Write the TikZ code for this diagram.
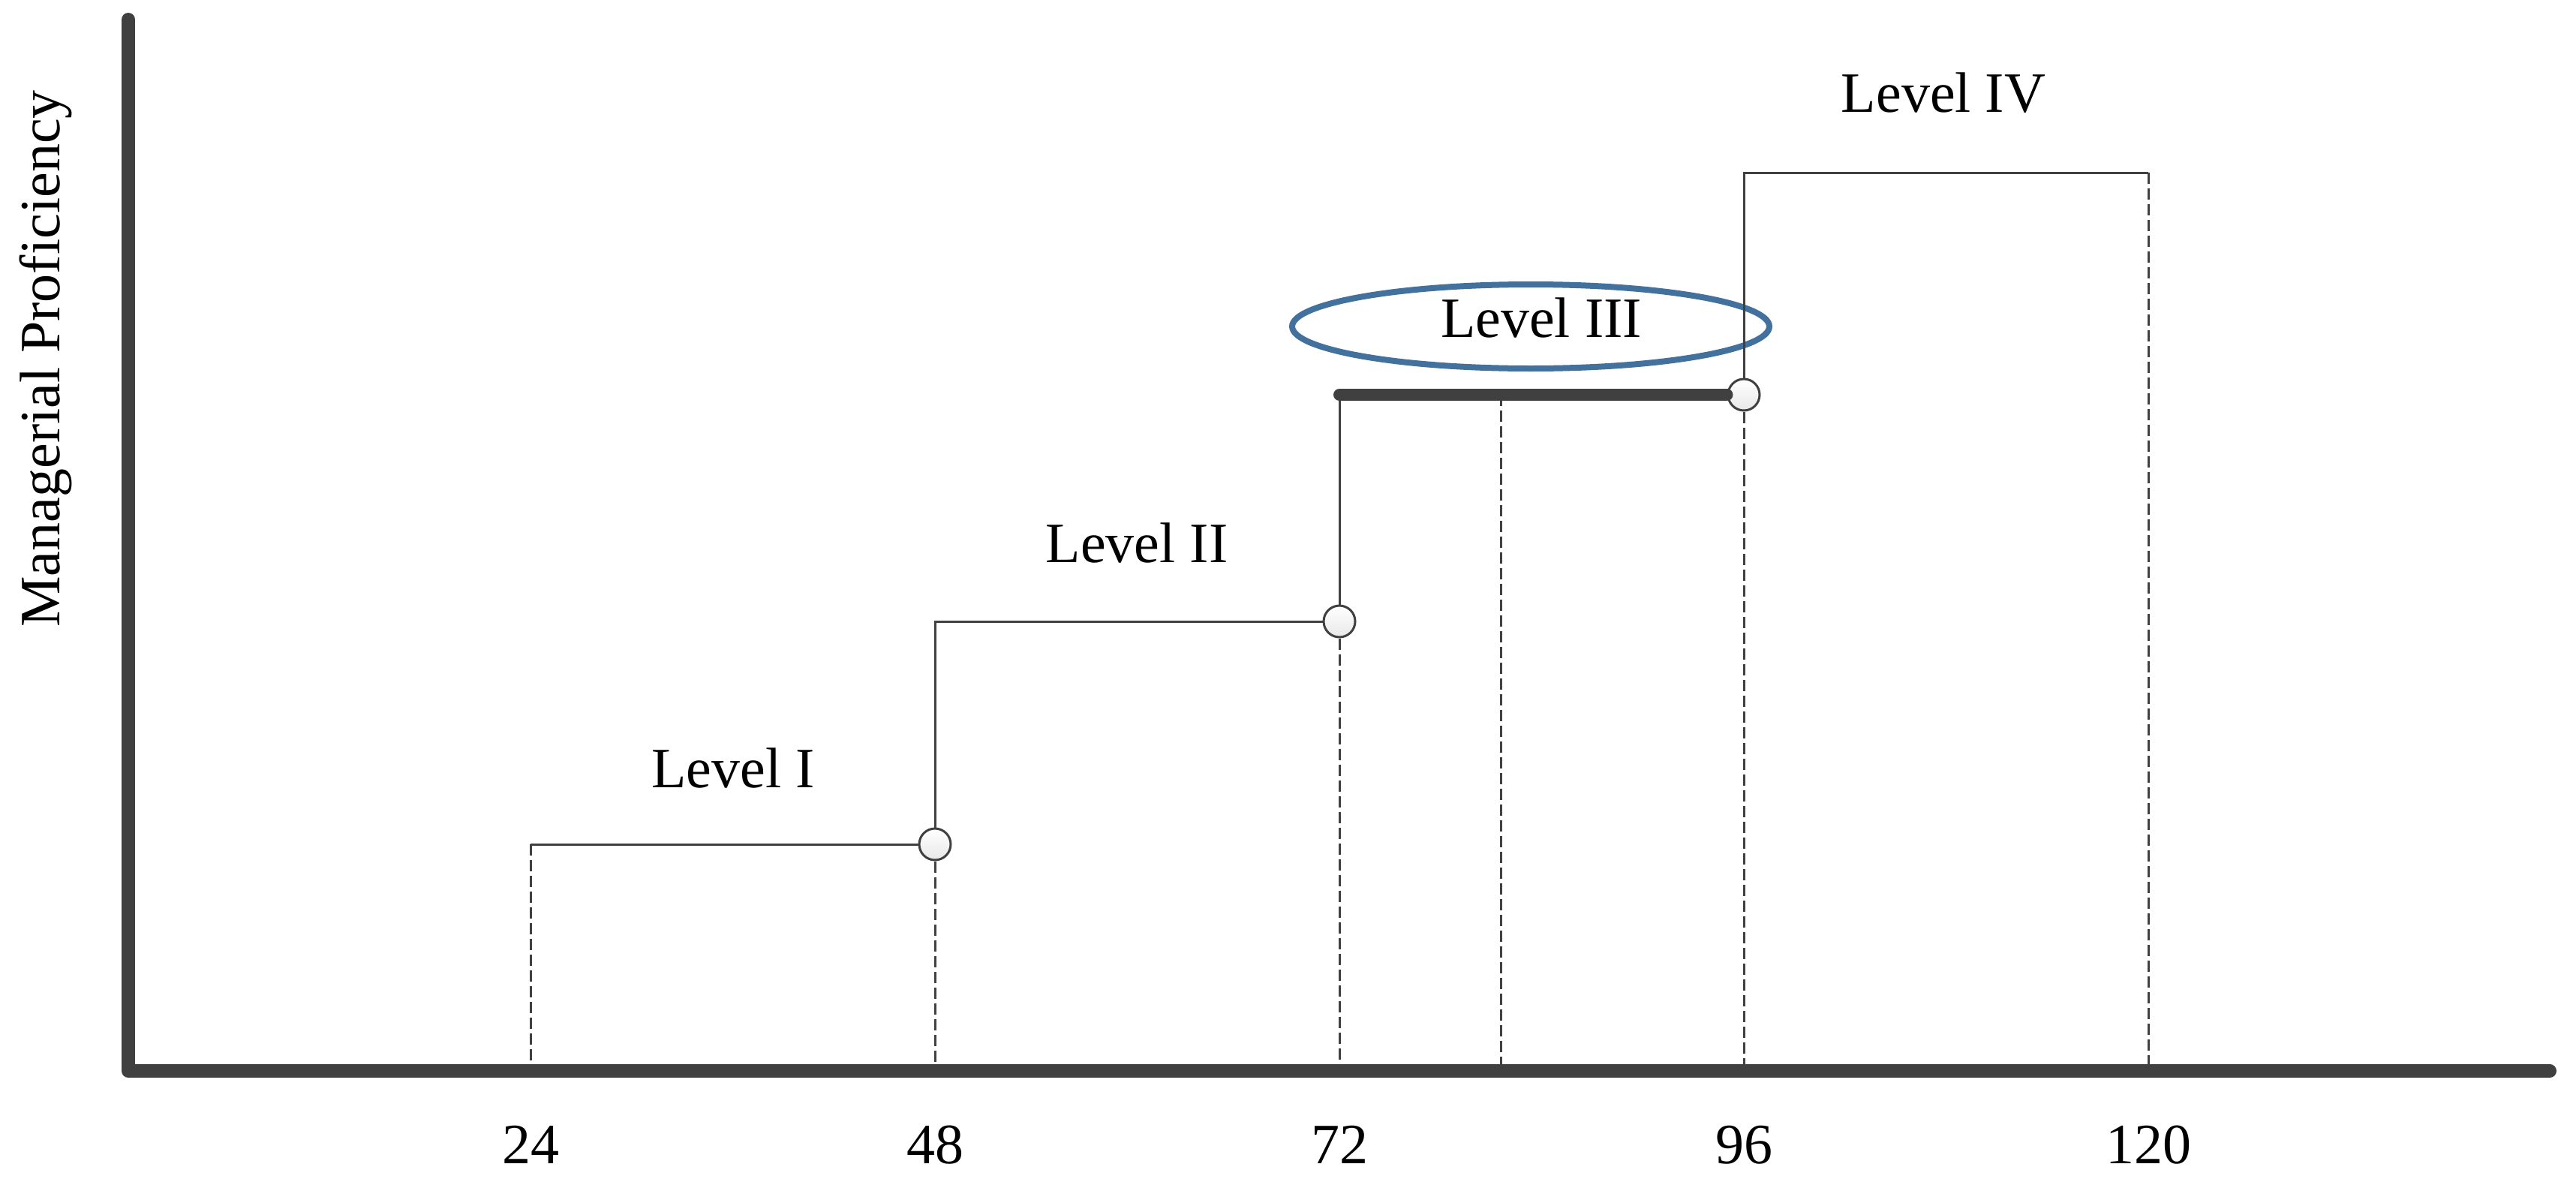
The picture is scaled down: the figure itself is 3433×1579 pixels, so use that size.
\documentclass[tikz,border=0pt]{standalone}
\usepackage{fontspec}
\setmainfont{Liberation Serif}
\usetikzlibrary{shapes.geometric}
\definecolor{ln}{HTML}{404040}
\definecolor{ellblue}{HTML}{41719C}
\begin{document}
\begin{tikzpicture}[x=0.5pt,y=-0.5pt,
  levelline/.style={draw=ln,line width=1.5pt},
  dashline/.style={draw=ln,line width=1.5pt,dash pattern=on 7.5pt off 3pt},
  axisline/.style={draw=ln,line width=9pt,line cap=round,line join=round},
  boldline/.style={draw=ln,line width=8pt,line cap=round},
  stepdot/.style={circle,draw=ln,line width=1.5pt,top color=white,bottom color=black!9,minimum size=21pt,inner sep=0pt},
  lbl/.style={font=\fontsize{38}{46}\selectfont,inner sep=0pt,anchor=base}]
\useasboundingbox (0,0) rectangle (3433,1579);

% axes
\coordinate (ytop) at (171,26);
\coordinate (origin) at (171,1427);
\coordinate (xend) at (3398,1427);
\draw[axisline] (ytop) -- (origin) -- (xend);

% ellipse around Level III
\node[ellipse,draw=ellblue,line width=4pt,minimum width=318pt,minimum height=56pt,inner sep=0pt] (ellIII) at (2040,435) {};

% coordinates
\coordinate (p24top) at (707,1125);
\coordinate (p24bot) at (707,1427);
\coordinate (p48mid) at (1246,828);
\coordinate (p48bot) at (1246,1427);
\coordinate (p72top) at (1785,526);
\coordinate (p72bot) at (1785,1427);
\coordinate (p84top) at (2000,526);
\coordinate (p84bot) at (2000,1427);
\coordinate (p96top) at (2324,230);
\coordinate (p96bot) at (2324,1427);
\coordinate (p120top) at (2863,230);
\coordinate (p120bot) at (2863,1427);

% circles
\node[stepdot] (c1) at (1246,1125) {};
\node[stepdot] (c2) at (1785,828) {};
\node[stepdot] (c3) at (2324,526) {};

% dashed verticals
\draw[dashline] (p24top) -- (p24bot);
\draw[dashline] (c1.south) -- (p48bot);
\draw[dashline] (c2.south) -- (p72bot);
\draw[dashline] (p84top) -- (p84bot);
\draw[dashline] (c3.south) -- (p96bot);
\draw[dashline] (p120top) -- (p120bot);

% steps
\draw[levelline] (p24top) -- (c1.west);
\draw[levelline] (c1.north) -- (p48mid) -- (c2.west);
\draw[levelline] (c2.north) -- (p72top);
\draw[boldline] (p72top) -- (c3.west);
\draw[levelline] (c3.north) -- (p96top) -- (p120top);

% labels
\node[lbl] (lvl1) at (977,1049) {Level I};
\node[lbl] (lvl2) at (1515,749) {Level II};
\node[lbl] (lvl3) at (2054,449) {Level III};
\node[lbl] (lvl4) at (2590,149) {Level IV};

\node[lbl] (t24) at (707,1550) {24};
\node[lbl] (t48) at (1246,1550) {48};
\node[lbl] (t72) at (1785,1550) {72};
\node[lbl] (t96) at (2324,1550) {96};
\node[lbl] (t120) at (2863,1550) {120};

\node[lbl,rotate=90] (ylab) at (79,478) {Managerial Proficiency};
\end{tikzpicture}
\end{document}
